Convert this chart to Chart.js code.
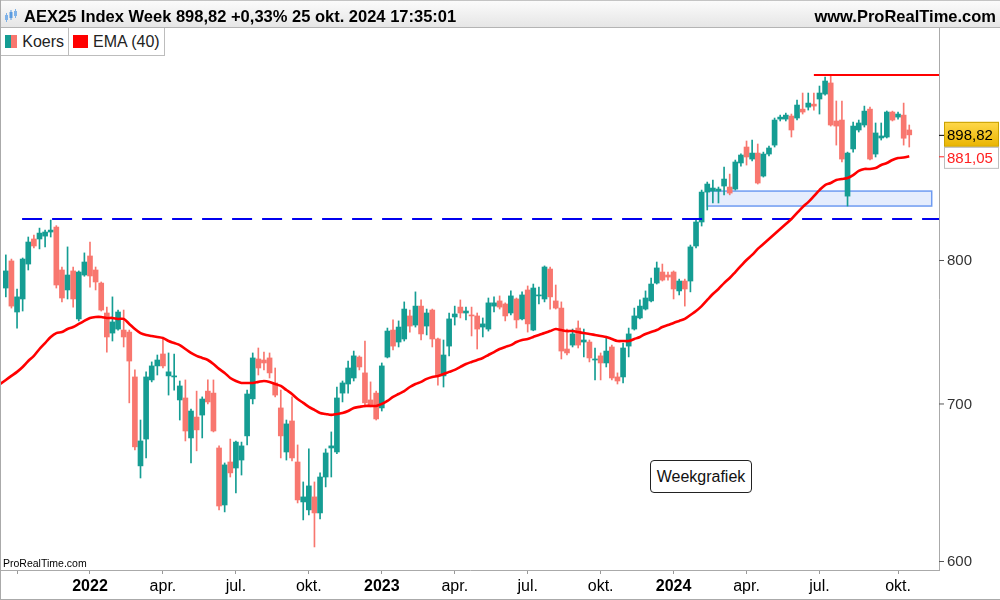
<!DOCTYPE html>
<html>
<head>
<meta charset="utf-8">
<script src="https://cdn.jsdelivr.net/npm/chart.js@4.4.1/dist/chart.umd.min.js"></script>
<style>
  html, body { margin: 0; padding: 0; background: #fff; }
  #wrap { position: relative; width: 1000px; height: 600px; overflow: hidden; font-family: "Liberation Sans", Arial, sans-serif; }
  #top { position: absolute; left: 0; top: 0; width: 1000px; height: 28px; box-sizing: border-box;
         background: linear-gradient(#fbfbfb, #e6e6e6); border-top: 1px solid #c4c4c4; border-bottom: 1px solid #b4b4b4; }
  #title { position: absolute; left: 24px; top: 1px; line-height: 28px; font-size: 16.5px; font-weight: bold; color: #000; white-space: nowrap; }
  #site { position: absolute; right: 4px; top: 1px; line-height: 28px; font-size: 16.5px; font-weight: bold; color: #000; }
  #icon { position: absolute; left: 5px; top: 8px; }
  #legend { position: absolute; left: 1px; top: 28px; height: 27px; display: flex; border-bottom: 1px solid #bdbdbd; background: #fff; }
  .cell { display: flex; align-items: center; height: 27px; padding: 0 4px 0 4px; border-right: 1px solid #bdbdbd; font-size: 16px; color: #222; }
  .sq { width: 15px; height: 13px; margin-right: 5px; }
  #cv { position: absolute; left: 0; top: 28px; width: 1000px; height: 572px; }
  #brand { position: absolute; left: 3px; top: 557px; font-size: 10.5px; color: #000; }
  #note { position: absolute; left: 650px; top: 460px; width: 100px; height: 31px; border: 1px solid #222; border-radius: 4px;
          background: #fff; text-align: center; line-height: 31px; font-size: 16px; color: #111; }
  .edge { position: absolute; background: #aaa; }
</style>
</head>
<body>
<div id="wrap">
  <div id="cv"><canvas id="myChart"></canvas></div>
  <div id="top">
    <svg id="icon" width="12" height="14" viewBox="0 0 12 14">
      <rect x="0" y="6" width="3" height="5" fill="#7fb2e8"/><rect x="1" y="4" width="1" height="9" fill="#7fb2e8"/>
      <rect x="4.5" y="3" width="3" height="6" fill="#5b9be0"/><rect x="5.5" y="1" width="1" height="10" fill="#5b9be0"/>
      <rect x="9" y="2" width="3" height="5" fill="#7fb2e8"/><rect x="10" y="0" width="1" height="9" fill="#7fb2e8"/>
    </svg>
    <div id="title">AEX25 Index Week 898,82 +0,33% 25 okt. 2024 17:35:01</div>
    <div id="site">www.ProRealTime.com</div>
  </div>
  <div id="legend">
    <div class="cell" style="width:59px"><div class="sq" style="background:linear-gradient(90deg,#159d93 50%,#f8776f 50%)"></div>Koers</div>
    <div class="cell" style="width:87px"><div class="sq" style="background:#ff0000"></div>EMA (40)</div>
  </div>
  <div id="brand">ProRealTime.com</div>
  <div id="note">Weekgrafiek</div>
  <div class="edge" style="left:0;top:0;width:1px;height:600px"></div>
  <div class="edge" style="left:0;top:599px;width:1000px;height:1px"></div>
</div>
<script>
//weekly candles, week 0 = first week of jan 2022
var firstWeek = -15
var open = [
  779.4, 799.3, 762.2, 771.5, 797.0, 815.8, 815.8, 818.0, 821.1, 824.9,
  792.6, 778.0, 791.9, 757.3, 788.9, 803.0, 792.6, 783.0, 761.5, 747.4,
  750.2, 749.5, 748.1, 717.5, 660.5, 677.2, 715.5, 724.9, 733.0, 718.2,
  717.5, 702.3, 703.6, 677.9, 691.2, 692.5, 708.1, 706.8, 671.6, 636.9,
  662.9, 659.2, 664.1, 679.2, 703.0, 729.6, 728.9, 730.3, 713.5, 697.1,
  669.1, 688.7, 662.9, 638.7, 634.0, 641.7, 632.2, 653.7, 671.6, 669.1,
  706.8, 712.8, 716.8, 730.9, 720.2, 702.3, 706.8, 697.1, 730.9, 749.5,
  741.2, 743.3, 759.4, 753.0, 766.4, 752.3, 763.6, 743.3, 718.2, 738.4,
  758.7, 765.7, 761.5, 760.1, 759.4, 751.6, 750.2, 766.4, 770.1, 767.9,
  761.5, 771.5, 757.3, 778.0, 749.5, 773.7, 771.5, 793.3, 770.1, 765.0,
  736.4, 739.1, 750.9, 741.2, 741.2, 728.9, 731.7, 726.9, 737.8, 717.5,
  717.5, 738.4, 750.2, 758.0, 764.3, 770.1, 783.0, 791.1, 788.9, 791.1,
  777.3, 784.5, 784.5, 810.5, 828.8, 852.2, 853.0, 853.0, 857.0, 856.2,
  854.6, 875.6, 888.7, 878.8, 883.7, 865.0, 882.9, 890.3, 912.1, 912.1,
  914.7, 913.0, 920.6, 922.3, 924.9, 929.3, 933.6, 943.3, 910.5, 911.3,
  849.0, 887.1, 902.9, 907.1, 920.6, 882.9, 896.2, 897.0, 918.1, 913.8,
  915.5, 902.9]
var high = [
  803.8, 800.7, 778.7, 801.5, 817.3, 818.8, 824.1, 822.6, 830.3, 826.0,
  794.8, 809.8, 794.8, 791.9, 805.3, 813.5, 794.8, 783.8, 765.7, 773.0,
  763.6, 763.6, 749.5, 722.2, 689.3, 720.9, 727.6, 732.3, 743.3, 733.7,
  733.0, 714.8, 715.5, 696.4, 708.1, 704.3, 715.5, 715.5, 672.9, 662.3,
  677.2, 676.0, 675.3, 708.8, 733.7, 737.1, 734.3, 733.7, 723.5, 708.8,
  689.3, 704.3, 673.5, 650.7, 671.0, 650.7, 656.2, 671.0, 681.7, 710.8,
  714.8, 728.2, 735.0, 731.7, 741.9, 714.2, 708.1, 726.9, 750.9, 756.6,
  755.9, 769.4, 763.6, 776.6, 770.8, 764.3, 764.3, 744.0, 742.6, 761.5,
  766.4, 770.8, 765.7, 765.7, 761.5, 758.0, 772.2, 773.0, 773.7, 768.7,
  777.3, 772.2, 776.6, 780.9, 782.3, 780.1, 795.6, 794.8, 781.6, 769.4,
  750.2, 750.2, 755.9, 750.2, 742.6, 737.1, 733.7, 744.7, 739.1, 720.2,
  740.5, 750.9, 765.0, 770.8, 777.3, 786.7, 798.5, 797.0, 791.1, 791.9,
  785.9, 785.9, 811.2, 831.1, 853.8, 860.2, 861.8, 856.2, 872.3, 866.6,
  878.0, 883.0, 893.7, 894.5, 891.2, 884.5, 889.5, 913.0, 915.5, 917.2,
  916.4, 928.4, 934.5, 934.5, 934.5, 940.6, 948.5, 949.8, 927.6, 927.6,
  884.5, 909.6, 911.3, 923.2, 922.3, 908.8, 908.8, 919.0, 918.9, 918.1,
  925.8, 907.1]
var low = [
  773.0, 765.0, 750.9, 762.9, 792.6, 809.0, 808.3, 809.8, 817.3, 779.4,
  769.4, 771.5, 765.7, 755.9, 788.0, 780.1, 778.0, 762.9, 734.3, 741.9,
  749.5, 737.8, 700.4, 670.4, 653.1, 665.4, 714.2, 718.8, 723.5, 705.5,
  708.8, 689.3, 676.0, 662.3, 669.8, 677.9, 699.7, 681.7, 634.0, 632.8,
  653.7, 644.1, 654.9, 673.5, 699.7, 718.8, 722.2, 716.8, 704.3, 665.4,
  664.1, 663.5, 638.1, 628.1, 631.0, 612.5, 628.7, 647.7, 653.7, 668.0,
  701.0, 706.8, 714.8, 722.2, 697.8, 697.8, 689.3, 695.1, 730.3, 735.7,
  737.8, 741.9, 748.1, 751.6, 742.6, 746.1, 737.8, 712.1, 710.8, 731.7,
  753.0, 758.0, 756.6, 745.4, 736.4, 744.7, 748.8, 762.2, 764.3, 755.9,
  760.1, 750.9, 756.6, 748.1, 749.0, 767.9, 769.4, 764.3, 764.3, 729.6,
  732.3, 737.8, 737.1, 731.0, 727.6, 715.5, 715.5, 724.2, 715.5, 712.8,
  713.5, 731.0, 749.5, 757.3, 763.6, 769.4, 782.3, 784.5, 785.2, 771.5,
  774.4, 766.4, 776.6, 809.0, 825.7, 838.1, 843.6, 843.6, 850.0, 850.0,
  853.8, 873.1, 873.9, 877.2, 858.6, 864.2, 881.3, 888.7, 910.5, 910.5,
  897.0, 911.3, 916.4, 919.8, 919.8, 916.4, 932.7, 906.2, 890.3, 876.4,
  841.2, 884.5, 901.2, 905.4, 878.0, 880.5, 894.5, 896.2, 910.5, 912.1,
  890.3, 888.7]
var close = [
  791.9, 766.4, 773.0, 800.7, 813.5, 810.5, 820.3, 821.1, 822.6, 781.6,
  772.2, 788.9, 771.5, 791.1, 798.5, 788.2, 783.8, 763.6, 744.7, 755.2,
  762.2, 744.7, 728.2, 672.3, 676.0, 717.5, 724.9, 728.9, 724.9, 720.9,
  718.2, 711.5, 682.3, 695.1, 683.0, 702.9, 701.0, 682.3, 636.3, 661.1,
  656.2, 675.3, 672.9, 706.2, 730.3, 723.5, 726.9, 720.2, 705.5, 679.2,
  686.8, 665.4, 639.9, 641.7, 648.3, 632.2, 653.7, 668.5, 672.9, 703.6,
  713.5, 723.5, 731.7, 724.2, 700.4, 698.4, 690.0, 724.9, 748.8, 738.4,
  751.6, 764.3, 752.3, 766.4, 746.8, 761.5, 743.3, 718.2, 732.3, 757.3,
  760.8, 761.5, 762.9, 759.4, 750.2, 753.8, 768.7, 768.7, 765.7, 759.4,
  773.7, 756.6, 774.4, 753.8, 779.4, 774.4, 794.8, 773.0, 765.0, 735.0,
  733.7, 746.8, 739.1, 742.6, 730.3, 729.6, 726.9, 735.0, 716.8, 714.8,
  737.1, 746.8, 759.4, 766.4, 772.2, 782.3, 794.1, 785.2, 787.4, 778.7,
  784.5, 778.7, 809.8, 828.8, 852.2, 858.6, 855.4, 854.6, 862.6, 851.4,
  876.4, 882.1, 880.5, 883.7, 859.4, 882.9, 887.9, 911.3, 913.8, 915.5,
  902.9, 924.1, 918.1, 925.8, 923.2, 934.5, 945.0, 907.1, 906.2, 878.8,
  883.7, 906.2, 908.8, 918.9, 878.8, 900.4, 897.9, 918.1, 911.3, 916.4,
  896.0, 898.82]

//ema 40 as drawn, starts one week earlier
var emaFirstWeek = -16
var ema40 = [
  712.8, 715.5, 718.2, 720.9, 724.2, 728.2, 731.7, 736.4, 740.5, 744.7,
  747.4, 748.1, 750.2, 751.6, 753.8, 755.9, 758.0, 758.7, 758.7, 758.0,
  758.0, 757.3, 757.3, 753.8, 750.2, 747.4, 746.1, 745.4, 744.7, 744.0,
  741.9, 740.5, 739.1, 736.4, 733.7, 731.7, 730.3, 728.9, 726.2, 722.9,
  720.2, 716.8, 714.8, 713.5, 713.5, 713.5, 714.2, 714.8, 714.2, 712.8,
  711.5, 708.8, 706.2, 702.9, 700.4, 697.8, 695.8, 693.8, 693.2, 692.6,
  693.2, 693.8, 695.1, 697.1, 697.8, 698.4, 698.4, 698.4, 699.7, 701.7,
  704.3, 706.2, 708.1, 710.8, 712.8, 714.2, 716.2, 717.5, 718.2, 719.5,
  720.9, 722.2, 724.2, 726.2, 727.6, 728.9, 730.3, 732.3, 734.3, 736.4,
  737.8, 739.1, 741.2, 742.6, 743.3, 744.7, 746.1, 747.4, 748.8, 750.2,
  749.5, 748.8, 748.8, 748.1, 747.4, 746.8, 746.1, 745.4, 744.7, 743.3,
  741.9, 741.9, 741.9, 743.3, 744.7, 746.8, 748.1, 749.5, 751.6, 753.0,
  754.5, 755.9, 757.3, 760.1, 762.9, 766.4, 770.8, 775.1, 778.7, 783.0,
  786.7, 791.1, 795.6, 800.0, 803.8, 808.3, 812.0, 815.8, 819.6, 823.4,
  827.2, 831.1, 835.8, 840.4, 844.3, 849.0, 853.8, 857.8, 859.4, 861.8,
  862.6, 863.4, 865.8, 869.1, 870.7, 870.7, 871.5, 874.0, 875.6, 878.0,
  879.6, 880.0, 881.05]

//axis ticks
var tickWeeks = [-13, 0, 13, 26, 39, 52, 65, 78, 91, 104, 117, 130, 144]
var tickLabels = ['', '2022', 'apr.', 'jul.', 'okt.', '2023', 'apr.', 'jul.', 'okt.', '2024', 'apr.', 'jul.', 'okt.']
var yearTick = [false, true, false, false, false, true, false, false, false, true, false, false, false]
var priceTicks = [600, 700, 800]

//drawn objects
var supportLevel = 831.1
var supportWeeks = [-12.1, 151.3]
var resistLevel = 950.3
var resistWeeks = [129, 151.3]
var zoneWeeks = [110, 150]
var zonePrices = [841.2, 853.0]
var lastClose = 898.82
var lastEma = 881.05

var F = '"Liberation Sans", Arial, sans-serif'
var teal = '#159d93'
var salmon = '#f8776f'

var candleColors = close.map((c, i) => c >= open[i] ? teal : salmon)
var bodies = close.map((c, i) => ({x: firstWeek + i, y: [open[i], c]}))
var wicks = close.map((c, i) => ({x: firstWeek + i, y: [low[i], high[i]]}))
var emaPoints = ema40.map((v, i) => ({x: emaFirstWeek + i, y: v}))

var overlay = {
    id: 'overlay',
    beforeDatasetsDraw(chart) { //light blue zone under the candles
        let ctx = chart.ctx, xs = chart.scales.x, ys = chart.scales.y
        let x0 = xs.getPixelForValue(zoneWeeks[0]), x1 = xs.getPixelForValue(zoneWeeks[1])
        let y0 = ys.getPixelForValue(zonePrices[1]), y1 = ys.getPixelForValue(zonePrices[0])
        ctx.save()
        ctx.fillStyle = 'rgba(208,222,252,0.55)'
        ctx.fillRect(x0, y0, x1 - x0, y1 - y0)
        ctx.strokeStyle = '#6f9cf2'
        ctx.lineWidth = 1.5
        ctx.strokeRect(x0, y0, x1 - x0, y1 - y0)
        ctx.restore()
    },
    afterDraw(chart) { //price axis labels and value tags
        let ctx = chart.ctx, ys = chart.scales.y, area = chart.chartArea
        let r = area.right
        ctx.save()
        ctx.font = '15px ' + F
        ctx.textBaseline = 'middle'
        ctx.strokeStyle = '#555'
        ctx.lineWidth = 1
        priceTicks.forEach(v => {
            let py = Math.min(ys.getPixelForValue(v), area.bottom - 9)
            ctx.beginPath(); ctx.moveTo(r, py + 0.5); ctx.lineTo(r + 5, py + 0.5); ctx.stroke()
            ctx.fillStyle = '#333'
            ctx.fillText(String(v), r + 8, py + 1)
        })
        //last close tag
        let pc = ys.getPixelForValue(lastClose)
        let g = ctx.createLinearGradient(0, pc - 13, 0, pc + 12)
        g.addColorStop(0, '#ffd84a'); g.addColorStop(1, '#e9b400')
        ctx.fillStyle = g
        ctx.fillRect(r + 5, pc - 13, 55, 25)
        ctx.strokeStyle = '#c9a100'
        ctx.strokeRect(r + 5.5, pc - 12.5, 54, 24)
        ctx.strokeStyle = '#000'
        ctx.beginPath(); ctx.moveTo(r, pc + 0.5); ctx.lineTo(r + 5, pc + 0.5); ctx.stroke()
        ctx.fillStyle = '#000'
        ctx.fillText(lastClose.toFixed(2).replace('.', ','), r + 8, pc + 1)
        //ema tag just below
        let top = pc + 12
        ctx.fillStyle = '#fff'
        ctx.fillRect(r + 5, top, 55, 22)
        ctx.strokeStyle = '#bdbdbd'
        ctx.strokeRect(r + 5.5, top + 0.5, 54, 21)
        let pe = ys.getPixelForValue(lastEma)
        ctx.strokeStyle = '#ff2020'
        ctx.beginPath(); ctx.moveTo(r, pe + 0.5); ctx.lineTo(r + 5, pe + 0.5); ctx.stroke()
        ctx.fillStyle = '#ff2020'
        ctx.fillText(lastEma.toFixed(2).replace('.', ','), r + 8, top + 12)
        ctx.restore()
    }
}

var myChart = new Chart(document.getElementById('myChart'), {
    type: 'bar',
    data: {
        datasets: [{
            type: 'line', label: 'EMA (40)', data: emaPoints,
            borderColor: '#ff0000', borderWidth: 2.6, pointRadius: 0, tension: 0.3, order: 0
        }, {
            type: 'line', label: 'support', data: supportWeeks.map(w => ({x: w, y: supportLevel})),
            borderColor: '#0000ee', borderWidth: 2, borderDash: [20, 10], pointRadius: 0, order: 0
        }, {
            type: 'line', label: 'top', data: resistWeeks.map(w => ({x: w, y: resistLevel})),
            borderColor: '#ff0000', borderWidth: 2, pointRadius: 0, order: 0
        }, {
            label: 'body', data: bodies, backgroundColor: candleColors,
            barThickness: 5, grouped: false, minBarLength: 1, order: 1
        }, {
            label: 'wick', data: wicks, backgroundColor: candleColors,
            barThickness: 1, grouped: false, order: 2
        }]
    },
    options: {
        responsive: true,
        maintainAspectRatio: false,
        animation: false,
        events: [],
        layout: { padding: { left: 1, right: 0, top: 0, bottom: 0 } },
        plugins: { legend: { display: false }, tooltip: { enabled: false } },
        scales: {
            x: {
                type: 'linear', min: -15.86, max: 151.3, offset: false,
                afterBuildTicks: s => { s.ticks = tickWeeks.map(v => ({value: v})) },
                afterFit: s => { s.height = 30 },
                ticks: {
                    autoSkip: false, maxRotation: 0, padding: 3, color: '#000',
                    callback: (v, i) => tickLabels[i],
                    font: c => ({family: F, size: 16, weight: yearTick[c.index] ? 'bold' : 'normal'})
                },
                grid: { drawOnChartArea: false, offset: false, tickLength: 4, color: '#999' },
                border: { color: '#aaa' }
            },
            y: {
                type: 'logarithmic', position: 'right', min: 599.5, max: 992.8,
                afterFit: s => { s.width = 61 },
                ticks: { display: false },
                grid: { display: false },
                border: { color: '#aaa' }
            }
        }
    },
    plugins: [overlay]
});
</script>
</body>
</html>
